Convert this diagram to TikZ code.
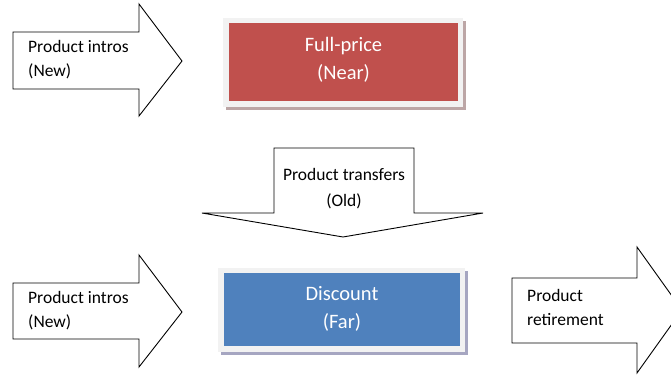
\documentclass[tikz,border=0pt]{standalone}
\usepackage{fontspec}
\setmainfont{Carlito}
\begin{document}
\begin{tikzpicture}[x=1pt,y=-1pt,
  arrowshape/.style={draw=black,fill=white,line width=0.9pt,line join=miter},
  arrowtext/.style={font=\fontsize{17.5}{24}\selectfont,align=left,anchor=west,inner sep=0pt},
  boxtext/.style={font=\fontsize{20.5}{28}\selectfont,align=center,text=white,inner sep=0pt}]
\useasboundingbox (0,0) rectangle (671,375);
\fill[white] (0,0) rectangle (671,375);
% top-left arrow
\draw[arrowshape] (13,32) -- (139,32) -- (139,4) -- (182,61) -- (139,116) -- (139,89) -- (13,89) -- cycle;
\node[arrowtext] (introA) at (28,60) {Product intros\\(New)};
% Full-price box
\fill[red!25!black!35] (226,21) rectangle (466,110);
\fill[black!5] (223,18) rectangle (463,107);
\fill[fill={rgb,255:red,192;green,80;blue,77}] (229,23) rectangle (458,101);
\node[boxtext] (full) at (343.5,60) {Full-price\\(Near)};
% down arrow
\draw[arrowshape] (274,148) -- (414,148) -- (414,213) -- (483,213) -- (343,237) -- (202,213) -- (274,213) -- cycle;
\node[boxtext,text=black,font=\fontsize{17.5}{26}\selectfont] (transfer) at (344,189) {Product transfers\\(Old)};
% bottom-left arrow
\draw[arrowshape] (13,283) -- (139,283) -- (139,255) -- (182,312) -- (139,367) -- (139,339) -- (13,339) -- cycle;
\node[arrowtext] (introB) at (28,311) {Product intros\\(New)};
% Discount box
\fill[blue!30!black!35] (221,271) rectangle (468,355);
\fill[black!5] (218,268) rectangle (465,352);
\fill[fill={rgb,255:red,79;green,129;blue,189}] (224,273) rectangle (460,346);
\node[boxtext] (disc) at (342,309) {Discount\\(Far)};
% right arrow
\draw[arrowshape] (512,278) -- (637,278) -- (637,247) -- (682,310) -- (637,373) -- (637,343) -- (512,343) -- cycle;
\node[arrowtext] (retire) at (527,307) {Product\\retirement};
\end{tikzpicture}
\end{document}
